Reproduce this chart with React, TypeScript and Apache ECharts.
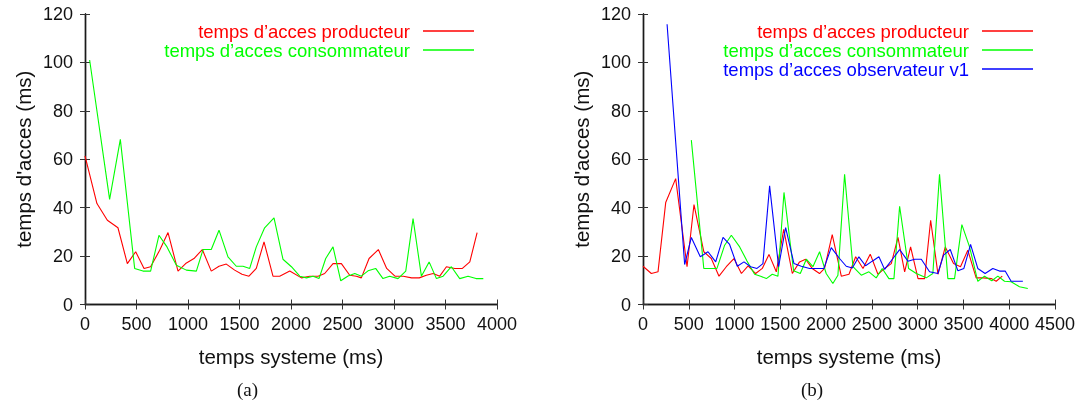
import React, { useEffect, useRef } from "react";
import * as echarts from "echarts";

const NAME_PROD = "temps d\u2019acces producteur";
const NAME_CONS = "temps d\u2019acces consommateur";
const NAME_OBS = "temps d\u2019acces observateur v1";

const X_TITLE = "temps systeme (ms)";
const Y_TITLE = "temps d'acces (ms)";
const CAPTIONS = ["(a)", "(b)"];

// (a) left chart
const aProducteur: [number, number][] = [
  [0, 61.4], [116, 41.7], [217, 34.8], [320, 31.7], [411, 16.9], [492, 21.8], [573, 14.9], [637, 15.6],
  [725, 22.4], [806, 29.7], [903, 13.8], [977, 16.9], [1058, 19], [1139, 22.7], [1226, 13.8], [1301, 15.8],
  [1372, 16.7], [1453, 14.2], [1524, 12.5], [1592, 11.7], [1663, 14.9], [1738, 25.9], [1825, 11.7], [1890, 11.7],
  [1988, 13.8], [2101, 11], [2182, 11.7], [2263, 11.7], [2327, 12.8], [2408, 16.9], [2489, 16.9], [2570, 12.1],
  [2635, 11.7], [2683, 11], [2758, 19], [2848, 22.7], [2929, 14.9], [3009, 11.7], [3090, 11.7], [3171, 11],
  [3245, 11], [3314, 12.1], [3380, 12.8], [3444, 11.7], [3509, 15.6], [3590, 14.9], [3664, 14.9], [3736, 17.6],
  [3807, 29.7],
];
const aConsommateur: [number, number][] = [
  [45, 101], [239, 43.4], [343, 68.2], [482, 14.9], [563, 13.8], [637, 13.8], [718, 28.6], [796, 23.8],
  [887, 16.2], [984, 14.2], [1081, 13.8], [1146, 22.7], [1226, 22.7], [1301, 30.7], [1388, 19.7], [1469, 15.8],
  [1534, 15.8], [1599, 14.9], [1663, 23.8], [1744, 31.7], [1835, 35.8], [1922, 18.7], [2004, 15.6], [2085, 11.7],
  [2150, 11], [2214, 11.7], [2272, 10.7], [2337, 19], [2408, 23.8], [2483, 9.8], [2554, 11.8], [2619, 12.8],
  [2683, 11.7], [2748, 13.9], [2822, 14.9], [2893, 10.7], [2958, 11.7], [3039, 10.7], [3114, 13.8], [3185, 35.5],
  [3266, 11.7], [3341, 17.6], [3412, 10.7], [3477, 11.7], [3557, 15.6], [3638, 10.7], [3719, 11.7], [3796, 10.7],
  [3867, 10.7],
];

// (b) right chart
const bProducteur: [number, number][] = [
  [0, 15.8], [91, 12.8], [164, 13.5], [248, 42.1], [357, 52], [481, 15.6], [557, 41.3], [664, 21.8],
  [746, 19], [830, 11.7], [910, 15.6], [993, 19], [1075, 12.8], [1148, 16], [1230, 12.8], [1303, 14.9],
  [1376, 20.7], [1456, 13.5], [1537, 31], [1631, 12.8], [1710, 17.6], [1776, 18.7], [1848, 14.9], [1928, 12.8],
  [1983, 14.9], [2067, 28.9], [2166, 11.7], [2250, 12.5], [2323, 19.7], [2403, 14.9], [2482, 20.8], [2566, 12.5],
  [2639, 14.9], [2712, 16.9], [2785, 27.7], [2858, 13.5], [2923, 23.8], [3004, 10.7], [3076, 10.7], [3142, 34.8],
  [3222, 12.5], [3302, 23.8], [3392, 16.9], [3468, 15.6], [3548, 22.4], [3639, 11], [3719, 11], [3803, 10.7],
  [3858, 9.6], [3924, 11.7],
];
const bConsommateur: [number, number][] = [
  [528, 67.9], [664, 14.9], [808, 14.9], [892, 24.5], [965, 28.6], [1056, 23.8], [1136, 18], [1219, 12.5],
  [1285, 11.7], [1347, 10.7], [1412, 12.5], [1474, 11.7], [1540, 46.3], [1645, 13.9], [1718, 12.8], [1784, 18.7],
  [1856, 15.6], [1929, 21.8], [2001, 12.8], [2074, 8.7], [2129, 12.1], [2202, 53.8], [2293, 15.6], [2384, 12.1],
  [2468, 13.5], [2547, 11], [2613, 14.9], [2686, 10.7], [2741, 10.7], [2803, 40.6], [2901, 14.9], [2985, 12.8],
  [3094, 11], [3166, 12.8], [3239, 53.8], [3330, 10.7], [3403, 10.7], [3483, 33], [3567, 23.8], [3657, 9.6],
  [3730, 11.7], [3810, 9.8], [3876, 11.7], [3949, 9.6], [4021, 9.4], [4112, 7.3], [4203, 6.6],
];
const bObservateur: [number, number][] = [
  [263, 115.8], [455, 16.5], [528, 27.7], [626, 19.7], [710, 21.8], [794, 17.6], [874, 27.7], [946, 24.8],
  [1030, 15.8], [1103, 17.6], [1176, 15.6], [1245, 14.9], [1310, 16.9], [1383, 49], [1481, 15.6], [1558, 31.8],
  [1649, 16.9], [1729, 15.8], [1820, 14.9], [1976, 14.9], [2056, 23.5], [2147, 19], [2220, 15.8], [2286, 15.1],
  [2358, 19.7], [2431, 16], [2504, 17.9], [2577, 19.7], [2639, 14.5], [2730, 19], [2803, 22.7], [2894, 17.9],
  [2967, 18.7], [3040, 18.7], [3130, 13.5], [3221, 12.8], [3283, 20.4], [3356, 22.7], [3440, 13.9], [3505, 14.9],
  [3578, 24.8], [3657, 14.9], [3737, 12.8], [3821, 14.9], [3894, 13.8], [3956, 13.8], [4021, 9.6], [4149, 9.6],
];

const X_MAX = [4000, 4500];
const Y_MAX = 120;
const X_STEP = 500;
const Y_STEP = 20;

const RED = "#ff0000";
const GREEN = "#00ff00";
const BLUE = "#0000ff";
const FONT = "'Liberation Sans', Arial, Helvetica, sans-serif";

export default function App() {
  const ref = useRef<HTMLDivElement>(null);
  useEffect(() => {
    if (!ref.current) return;
    const chart = echarts.init(ref.current, undefined, { renderer: "svg" });
    const grids = [
      { left: 85, top: 14, width: 412, height: 290.5 },
      { left: 643, top: 14, width: 412.5, height: 290.5 },
    ];
    const axisLine = { show: true, lineStyle: { color: "#1a1a1a", width: 1.4 } };
    const axisTick = { show: true, inside: true, length: 5, lineStyle: { color: "#333", width: 1 } };
    const labelStyle = { fontFamily: FONT, fontSize: 18, color: "#111", formatter: (v: number) => String(v) };
    const titleStyle = { fontFamily: FONT, fontSize: 20.5, color: "#111" };

    const xAxis: any[] = [];
    const yAxis: any[] = [];
    grids.forEach((_, g) => {
      xAxis.push({
        type: "value", gridIndex: g, min: 0, max: X_MAX[g], interval: X_STEP, position: "bottom",
        axisLine, axisTick, splitLine: { show: false },
        axisLabel: { ...labelStyle, margin: 10 },
        name: X_TITLE, nameLocation: "middle", nameGap: 41, nameTextStyle: titleStyle,
      });
      xAxis.push({
        type: "value", gridIndex: g, min: 0, max: X_MAX[g], interval: X_STEP, position: "top",
        axisLine, axisTick, splitLine: { show: false }, axisLabel: { show: false },
      });
      yAxis.push({
        type: "value", gridIndex: g, min: 0, max: Y_MAX, interval: Y_STEP, position: "left",
        axisLine, axisTick, splitLine: { show: false },
        axisLabel: { ...labelStyle, margin: 12 },
        name: Y_TITLE, nameLocation: "middle", nameGap: 51, nameTextStyle: titleStyle,
      });
      yAxis.push({
        type: "value", gridIndex: g, min: 0, max: Y_MAX, interval: Y_STEP, position: "right",
        axisLine, axisTick, splitLine: { show: false }, axisLabel: { show: false },
      });
    });

    const mk = (name: string, data: [number, number][], color: string, g: number) => ({
      type: "line", name, data, xAxisIndex: g * 2, yAxisIndex: g * 2,
      symbol: "none", showSymbol: false, lineStyle: { color, width: 1.1 }, itemStyle: { color },
    });

    const mkLegend = (name: string, color: string, right: number, top: number) => ({
      data: [name], right, top, orient: "vertical", align: "right", padding: 0,
      icon: "rect", itemWidth: 51, itemHeight: 1.4,
      itemStyle: { color },
      textStyle: { fontFamily: FONT, fontSize: 18.5, lineHeight: 18.5, color, padding: [0, 8, 0, 0] },
      selectedMode: false,
    });

    chart.setOption({
      animation: false,
      grid: grids,
      xAxis,
      yAxis,
      legend: [
        mkLegend(NAME_PROD, RED, 604, 21.5),
        mkLegend(NAME_CONS, GREEN, 604, 40.5),
        mkLegend(NAME_PROD, RED, 45, 21.5),
        mkLegend(NAME_CONS, GREEN, 45, 40.5),
        mkLegend(NAME_OBS, BLUE, 45, 59.5),
      ],
      series: [
        mk(NAME_PROD, aProducteur, RED, 0),
        mk(NAME_CONS, aConsommateur, GREEN, 0),
        mk(NAME_PROD, bProducteur, RED, 1),
        mk(NAME_CONS, bConsommateur, GREEN, 1),
        mk(NAME_OBS, bObservateur, BLUE, 1),
      ],
      graphic: [
        { type: "text", left: 252 - 15, top: 380, style: { text: CAPTIONS[0], font: "19px 'Liberation Serif', 'DejaVu Serif', serif", fill: "#111" } },
        { type: "text", left: 816 - 15, top: 380, style: { text: CAPTIONS[1], font: "19px 'Liberation Serif', 'DejaVu Serif', serif", fill: "#111" } },
      ],
    });
    return () => chart.dispose();
  }, []);
  return <div ref={ref} style={{ position: "fixed", left: 0, top: 0, width: 1078, height: 407 }} />;
}
